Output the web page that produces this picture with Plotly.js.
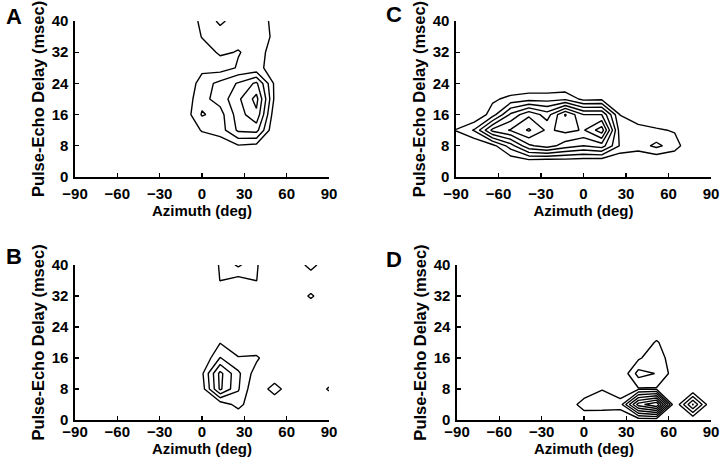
<!DOCTYPE html>
<html>
<head>
<meta charset="utf-8">
<script src="https://cdn.plot.ly/plotly-3.0.1.min.js"></script>
<style>
html,body{margin:0;padding:0;background:#fff;}
#chart{width:720px;height:466px;}
</style>
</head>
<body>
<div id="chart"></div>
<script>
// Grid of the response maps
const azimuth = [-90, -77.14, -64.29, -51.43, -38.57, -25.71, -12.86, 0, 12.86, 25.71, 38.57, 51.43, 64.29, 77.14, 90];
const delay = [0, 4, 8, 12, 16, 20, 24, 28, 32, 36, 40];
const xTicks = [-90, -60, -30, 0, 30, 60, 90];
const yTicks = [0, 8, 16, 24, 32, 40];
const panelLabels = ["A", "B", "C", "D"];
const xTitle = "Azimuth (deg)";
const yTitle = "Pulse-Echo Delay (msec)";

// Panel A (rows = delay 0..40 ms, columns = azimuth -90..90 deg)
const zA = [
  [0,0,0,0,0,0,0,0,0,0,0,0,0,0,0],
  [0,0,0,0,0,0,0,0,0,0,0,0,0,0,0],
  [0,0,0,0,0,0,0,0,0.3,0.9,0.7,0,0,0,0],
  [0,0,0,0,0,0,0,1.1,1.5,3.2,3.36,0,0,0,0],
  [0,0,0,0,0,0,0.3,2.1,1.6,3.5,4.77,0.3,0,0,0],
  [0,0,0,0,0,0,0.3,1.7,2.4,3.8,5.35,0.8,0,0,0],
  [0,0,0,0,0,0,0,1.5,2.3,3.1,4.2,0.8,0,0,0],
  [0,0,0,0,0,0,0,0.7,0.5,1.1,1.2,0.7,0,0,0],
  [0,0,0,0,0,0,0,0.5,1.15,0.95,1.3,0.7,0,0,0],
  [0,0,0,0,0,0,0,1.05,1.5,1.3,1.3,0.9,0,0,0],
  [0,0,0,0,0,0,0,1.3,2.2,1.5,1.4,0.8,0,0,0]
];
// Panel B
const zB = [
  [0,0,0,0,0,0,0,0,0,0,0,0,0,0,0],
  [0,0,0,0,0,0,0,0,0.3,1.4,0,0,0,0,0],
  [0,0,0,0,0,0,0,0.5,4.2,2.1,0,1.6,0,0,1.15],
  [0,0,0,0,0,0,0,0.8,4.3,2.2,0.5,0,0,0,0],
  [0,0,0,0,0,0,0,0,2.05,1.1,1.2,0,0,0,0],
  [0,0,0,0,0,0,0,0,0.95,0,0,0,0,0,0],
  [0,0,0,0,0,0,0,0,0,0,0,0,0,0,0],
  [0,0,0,0,0,0,0,0,0,0,0,0,0,0,0],
  [0,0,0,0,0,0,0,0,0,0,0,0,0,1.2,0],
  [0,0,0,0,0,0,0,0,1.02,0.6,1.02,0,0,0,0],
  [0,0,0,0,0,0,0,0,1.1,2.2,1.1,0,0,1.5,0]
];
// Panel C
const zC = [
  [0,0,0,0,0,0,0,0,0,0,0,0,0,0,0],
  [0,0,0,0.2,0.5,0.3,0.4,0.3,0.2,0,0,0,0,0,0],
  [0,0,0.6,2.5,4.8,5.5,4.5,4.0,4.5,1.9,1.5,2.25,1.5,0,0],
  [1.05,2.1,5.3,6.1,7.15,5.8,6.3,5.9,7.6,1.5,1.3,1.15,0.9,0,0],
  [0,0,1.5,4.2,5.8,4.5,7.1,5.0,5.0,0.98,0.5,0,0,0,0],
  [0,0,0.8,1.3,1.6,1.6,1.8,0.7,0.8,0,0,0,0,0,0],
  [0,0,0,0,0,0,0,0,0,0,0,0,0,0,0],
  [0,0,0,0,0,0,0,0,0,0,0,0,0,0,0],
  [0,0,0,0,0,0,0,0,0,0,0,0,0,0,0],
  [0,0,0,0,0,0,0,0,0,0,0,0,0,0,0],
  [0,0,0,0,0,0,0,0,0,0,0,0,0,0,0]
];
// Panel D
const zD = [
  [0,0,0,0,0,0,0,0,0,0,0.3,0.3,0,0,0],
  [0,0,0,0,0,0,0,1.64,1.6,1.5,6.5,8,0,4.1,0],
  [0,0,0,0,0,0,0,0,0.95,0.2,0.9,0.9,0,0,0],
  [0,0,0,0,0,0,0,0,0,0,2.4,1.95,0.5,0,0],
  [0,0,0,0,0,0,0,0,0,0,0.8,1.9,0,0,0],
  [0,0,0,0,0,0,0,0,0,0,0,1.15,0,0,0],
  [0,0,0,0,0,0,0,0,0,0,0,0,0,0,0],
  [0,0,0,0,0,0,0,0,0,0,0,0,0,0,0],
  [0,0,0,0,0,0,0,0,0,0,0,0,0,0,0],
  [0,0,0,0,0,0,0,0,0,0,0,0,0,0,0],
  [0,0,0,0,0,0,0,0,0,0,0,0,0,0,0]
];
const levelsTop = [5, 4, 7, 7]; // highest contour level per panel (A, B, C, D)

const W = 720, H = 466;
const FONT = "Liberation Sans, Arial, Helvetica, sans-serif";
// pixel boxes of the four plot areas: [left, right, top, bottom]
const boxes = [
  [75, 329, 21, 177],   // A
  [75, 329, 265, 420],  // B
  [456, 711, 21, 177],  // C
  [457, 711, 265, 420]  // D
];
// centres of the panel letters, pixels
const letterPos = [[14, 17], [14, 256], [394, 15], [394, 259]];
// x tick-label / x-title offsets (top row panels sit looser than bottom row)
const xLabelShift = [2, -3, 2, -3];
const xTitleGap = [4, 4, 4, 4];
const zs = [zA, zB, zC, zD];

const data = [];
const layout = {
  width: W, height: H,
  margin: {l: 0, r: 0, t: 0, b: 0},
  paper_bgcolor: "#fff", plot_bgcolor: "#fff",
  showlegend: false,
  font: {family: FONT, color: "#000", size: 15},
  annotations: []
};

for (let i = 0; i < 4; i++) {
  const sfx = i === 0 ? "" : String(i + 1);
  data.push({
    type: "contour",
    x: azimuth, y: delay, z: zs[i],
    xaxis: "x" + sfx, yaxis: "y" + sfx,
    autocontour: false,
    contours: {coloring: "lines", start: 1, end: levelsTop[i], size: 1, showlabels: false},
    line: {width: 1.4, smoothing: 0},
    colorscale: [[0, "#000"], [1, "#000"]],
    showscale: false,
    hoverinfo: "skip"
  });
  const b = boxes[i];
  const axCommon = {
    showline: true, linecolor: "#000", linewidth: 1.6,
    ticks: "inside", ticklen: 4, tickwidth: 1.3, tickcolor: "#000",
    showgrid: false, zeroline: false, automargin: false,
    tickfont: {family: FONT, size: 15, color: "#000", weight: 700},
    fixedrange: true
  };
  layout["xaxis" + sfx] = Object.assign({}, axCommon, {
    domain: [b[0] / W, b[1] / W],
    range: [-90, 90],
    tickmode: "array", tickvals: xTicks,
    ticktext: xTicks.map(v => (v < 0 ? "\u2212" + Math.abs(v) : String(v))),
    ticklabelstandoff: xLabelShift[i],
    anchor: "y" + sfx,
    title: {text: xTitle, font: {family: FONT, size: 15, color: "#000", weight: 700}, standoff: xTitleGap[i]}
  });
  layout["yaxis" + sfx] = Object.assign({}, axCommon, {
    domain: [1 - b[3] / H, 1 - b[2] / H],
    range: [0, 40],
    tickmode: "array", tickvals: yTicks,
    ticklabelstandoff: 2,
    anchor: "x" + sfx,
    title: {text: yTitle, font: {family: FONT, size: 16.5, color: "#000", weight: 700}, standoff: 3}
  });
  layout.annotations.push({
    text: panelLabels[i], xref: "paper", yref: "paper",
    x: letterPos[i][0] / W, y: 1 - letterPos[i][1] / H,
    xanchor: "center", yanchor: "middle", showarrow: false,
    font: {family: FONT, size: 22, color: "#000", weight: 700}
  });
}

Plotly.newPlot("chart", data, layout, {displayModeBar: false, staticPlot: true});
</script>
</body>
</html>
